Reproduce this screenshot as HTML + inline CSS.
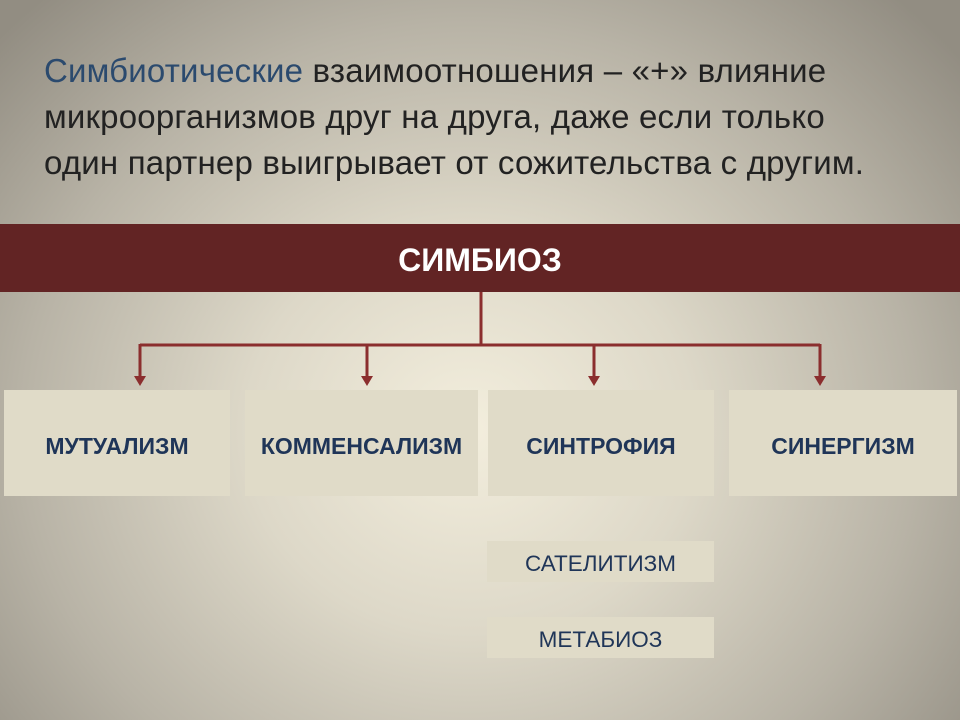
<!DOCTYPE html>
<html><head><meta charset="utf-8"><style>
body{margin:0;width:960px;height:720px;overflow:hidden;font-family:"Liberation Sans","Noto Sans CJK SC",sans-serif;
background:radial-gradient(ellipse 640px 580px at 470px 430px,#f3eedd 0%,#ddd8c8 35%,#b8b3a6 70%,#928d82 100%);position:relative}
.t{position:absolute;left:44px;top:48px;font-size:33px;line-height:46px;color:#222;letter-spacing:0.2px;white-space:nowrap}
.t span{color:#2b4a6e}
.ban{position:absolute;left:0;top:224px;width:960px;height:68px;background:#622424;color:#fff;font-weight:bold;font-size:32px;text-align:center;line-height:72px}
.b{position:absolute;top:390px;height:106px;background:#e0dbc8;color:#1f3558;font-weight:bold;font-size:23px;display:flex;align-items:center;justify-content:center;padding-top:6px;box-sizing:border-box}
.s{position:absolute;left:487px;width:227px;height:41px;background:#e0dbc8;color:#1f3558;font-size:22.5px;display:flex;align-items:center;justify-content:center;padding-top:4px;box-sizing:border-box}
</style></head><body>
<div class="t"><span>Симбиотические</span> взаимоотношения – «+» влияние<br>микроорганизмов друг на друга, даже если только<br>один партнер выигрывает от сожительства с другим.</div>
<div class="ban">СИМБИОЗ</div>
<svg width="960" height="720" style="position:absolute;left:0;top:0">
<g stroke="#8b2e2e" stroke-width="3" fill="none">
<path d="M481 292V345M140 345H820M140 344V378M367 344V378M594 344V378M820 344V378"/></g>
<g fill="#8b2e2e">
<path d="M134 376h12l-6 10z"/><path d="M361 376h12l-6 10z"/><path d="M588 376h12l-6 10z"/><path d="M814 376h12l-6 10z"/></g>
</svg>
<div class="b" style="left:4px;width:226px">МУТУАЛИЗМ</div>
<div class="b" style="left:245px;width:233px">КОММЕНСАЛИЗМ</div>
<div class="b" style="left:488px;width:226px">СИНТРОФИЯ</div>
<div class="b" style="left:729px;width:228px">СИНЕРГИЗМ</div>
<div class="s" style="top:541px">САТЕЛИТИЗМ</div>
<div class="s" style="top:617px">МЕТАБИОЗ</div>
</body></html>
